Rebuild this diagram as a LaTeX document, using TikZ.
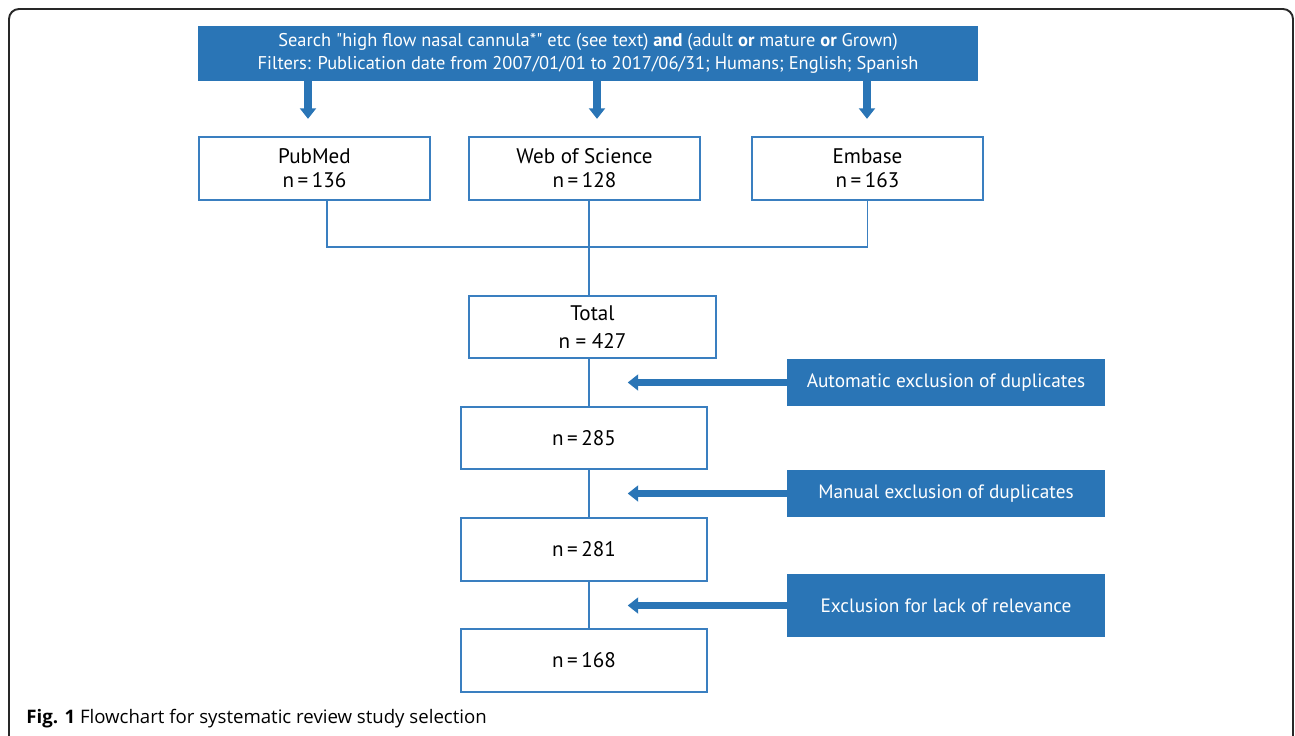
\documentclass[tikz,border=0pt]{standalone}
\usepackage{fontspec}
\setmainfont{PT Sans}
\newfontfamily\capfont{Open Sans}
\usetikzlibrary{arrows.meta}

\definecolor{flowblue}{RGB}{42,117,182}
\definecolor{lineblue}{RGB}{58,127,192}
\definecolor{framegray}{RGB}{40,40,40}

\begin{document}
\begin{tikzpicture}[x=0.02cm, y=-0.02cm,
  bluebox/.style={fill=flowblue, text=white, inner sep=0pt, align=center, font=\fontsize{10.5}{13}\selectfont},
  countbox/.style={draw=lineblue, line width=1.1pt, inner sep=0pt, align=center, font=\fontsize{12}{13.6}\selectfont},
  link/.style={draw=lineblue, line width=1.1pt},
  bigarrow/.style={draw=flowblue, line width=4pt, -{Triangle[width=9pt, length=6pt]}}]
\clip (0,0) rectangle (1295,735);
% frame round the figure
\draw[framegray, line width=1.1pt, rounded corners=0.2cm] (9,9) rectangle (1293,780);

% search strategy
\node[bluebox, minimum width=15.6cm, minimum height=1.1cm] (search) at (588,53)
  {Search \textquotedbl high flow nasal cannula*\textquotedbl{} etc (see text) \textbf{and} (adult \textbf{or} mature \textbf{or} Grown)\\
   Filters: Publication date from 2007/01/01 to 2017/06/31; Humans; English; Spanish};
\foreach \x in {308,597,867}
  \draw[bigarrow] (search.south -| \x,0) -- ++(0,38);

% databases
\node[countbox, minimum width=4.62cm, minimum height=1.26cm] (pubmed) at (314.5,168.5) {PubMed\\n\,=\,136};
\node[countbox, minimum width=4.62cm, minimum height=1.26cm] (wos) at (584.5,168.5) {Web of Science\\n\,=\,128};
\node[countbox, minimum width=4.62cm, minimum height=1.26cm] (embase) at (867.5,168.5) {Embase\\n\,=\,163};
\coordinate (join) at (589,247);
\draw[link] ([xshift=0.25cm]pubmed.south) |- (join) -| (embase.south);

% selection steps
\node[countbox, minimum width=4.94cm, minimum height=1.24cm] (total) at (592.5,327) {Total\\[2pt]n = 427};
\node[countbox, minimum width=4.92cm, minimum height=1.24cm] (n285) at (584,438) {n\,=\,285};
\node[countbox, minimum width=4.92cm, minimum height=1.26cm] (n281) at (584,549.5) {n\,=\,281};
\node[countbox, minimum width=4.92cm, minimum height=1.26cm] (n168) at (584,660.5) {n\,=\,168};
\draw[link] (wos.south -| join) -- (total.north -| join);
\draw[link] (total.south -| join) -- (n285.north -| join);
\draw[link] (n285.south -| join) -- (n281.north -| join);
\draw[link] (n281.south -| join) -- (n168.north -| join);

% exclusions
\node[bluebox, font=\fontsize{11}{13}\selectfont, minimum width=6.36cm, minimum height=0.94cm] (ex1) at (946,382.5) {Automatic exclusion of duplicates};
\node[bluebox, font=\fontsize{11}{13}\selectfont, minimum width=6.36cm, minimum height=0.94cm] (ex2) at (946,493.5) {Manual exclusion of duplicates};
\node[bluebox, font=\fontsize{11}{13}\selectfont, minimum width=6.36cm, minimum height=1.26cm] (ex3) at (946,605.5) {Exclusion for lack of relevance};
\foreach \e in {ex1,ex2,ex3}
  \draw[bigarrow] (\e.west) -- ++(-159,0);

% caption
\node[anchor=west, inner sep=0pt, font=\capfont\fontsize{10.6}{12}\selectfont] (caption) at (26,719)
  {\textbf{Fig. 1} Flowchart for systematic review study selection};
\end{tikzpicture}
\end{document}
